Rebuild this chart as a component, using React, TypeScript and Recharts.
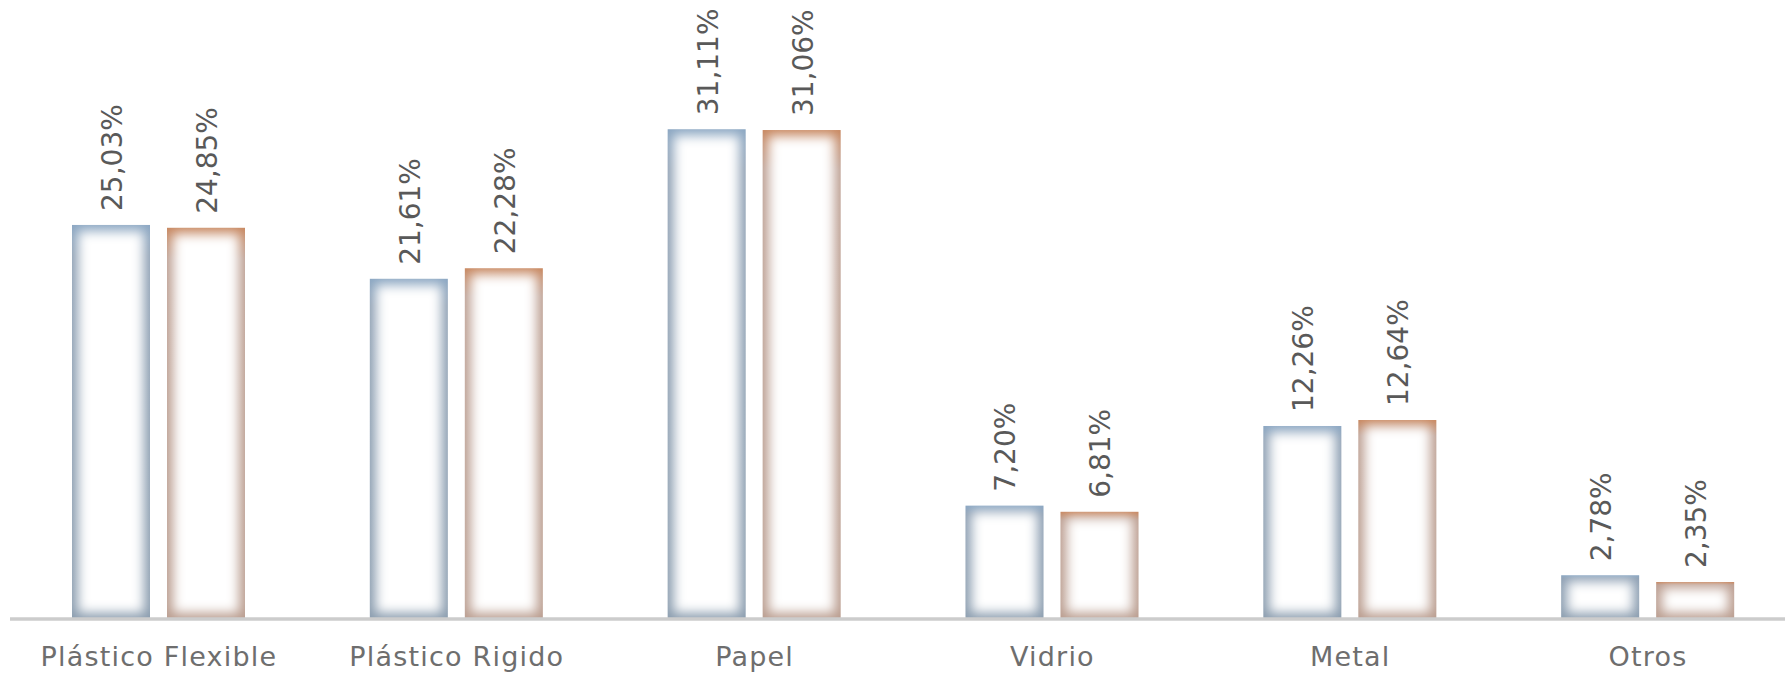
import React from 'react';
import { BarChart, Bar, XAxis, YAxis, LabelList } from 'recharts';

const categories = ['Plástico Flexible', 'Plástico Rigido', 'Papel', 'Vidrio', 'Metal', 'Otros'];
const seriesA = [25.03, 21.61, 31.11, 7.2, 12.26, 2.78];
const seriesB = [24.85, 22.28, 31.06, 6.81, 12.64, 2.35];

const data = categories.map((name, i) => ({ name, a: seriesA[i], b: seriesB[i] }));

const FONT = '"DejaVu Sans", sans-serif';

const makeShape = (key: string) => (props: any) => {
  const { x, y, width, height, index } = props;
  if (!width || !height || height <= 0) return <g />;
  const inset = Math.min(6, height / 5);
  const id = `clip-${key}-${index}`;
  return (
    <g>
      <defs>
        <clipPath id={id}>
          <rect x={x} y={y} width={width} height={height} />
        </clipPath>
      </defs>
      <rect x={x} y={y} width={width} height={height} fill={`url(#grad-${key})`} />
      <g clipPath={`url(#${id})`}>
        <rect
          x={x + inset}
          y={y + inset}
          width={Math.max(0, width - 2 * inset)}
          height={Math.max(0, height - 2 * inset)}
          fill="#ffffff"
          filter="url(#glowBlur)"
        />
      </g>
    </g>
  );
};

const fmt = (v: number) => v.toFixed(2).replace('.', ',') + '%';

const ValueLabel = (props: any) => {
  const { x, y, width, value } = props;
  const bx = x + width / 2 + 11;
  const by = y - 14;
  return (
    <text
      x={bx}
      y={by}
      transform={`rotate(-90 ${bx} ${by})`}
      textAnchor="start"
      fontFamily={FONT}
      fontSize={28}
      fill="#595959"
    >
      {fmt(value)}
    </text>
  );
};

const CatTick = (props: any) => {
  const { x, y, payload } = props;
  return (
    <text
      x={x}
      y={y + 47}
      textAnchor="middle"
      fontFamily={FONT}
      fontSize={27}
      letterSpacing={1.2}
      fill="#6e6e6e"
    >
      {payload.value}
    </text>
  );
};

export default function App() {
  return (
    <div style={{ position: 'absolute', left: 0, top: 0, width: 1785, height: 674, overflow: 'hidden', background: '#fff' }}>
      <BarChart
        width={1797}
        height={674}
        data={data}
        margin={{ top: 68, right: 0, left: 10, bottom: 0 }}
        barSize={78}
        barGap={17}
      >
        <defs>
          <linearGradient id="grad-a" x1="0" y1="0" x2="0" y2="1">
            <stop offset="0%" stopColor="#8aa6c2" />
            <stop offset="8%" stopColor="#8c9eb2" />
            <stop offset="100%" stopColor="#8a9cae" />
          </linearGradient>
          <linearGradient id="grad-b" x1="0" y1="0" x2="0" y2="1">
            <stop offset="0%" stopColor="#c8875f" />
            <stop offset="8%" stopColor="#bb9d90" />
            <stop offset="100%" stopColor="#b99c8e" />
          </linearGradient>
          <filter id="glowBlur" filterUnits="userSpaceOnUse" x="0" y="0" width="1800" height="700">
            <feGaussianBlur stdDeviation="6" />
          </filter>
        </defs>
        <YAxis hide domain={[0, 35]} />
        <XAxis
          dataKey="name"
          axisLine={{ stroke: '#cccccc', strokeWidth: 3.5 }}
          tickLine={false}
          tickSize={0}
          tickMargin={0}
          height={55}
          interval={0}
          tick={<CatTick />}
        />
        <Bar dataKey="a" isAnimationActive={false} shape={makeShape('a')}>
          <LabelList dataKey="a" content={<ValueLabel />} />
        </Bar>
        <Bar dataKey="b" isAnimationActive={false} shape={makeShape('b')}>
          <LabelList dataKey="b" content={<ValueLabel />} />
        </Bar>
      </BarChart>
    </div>
  );
}
